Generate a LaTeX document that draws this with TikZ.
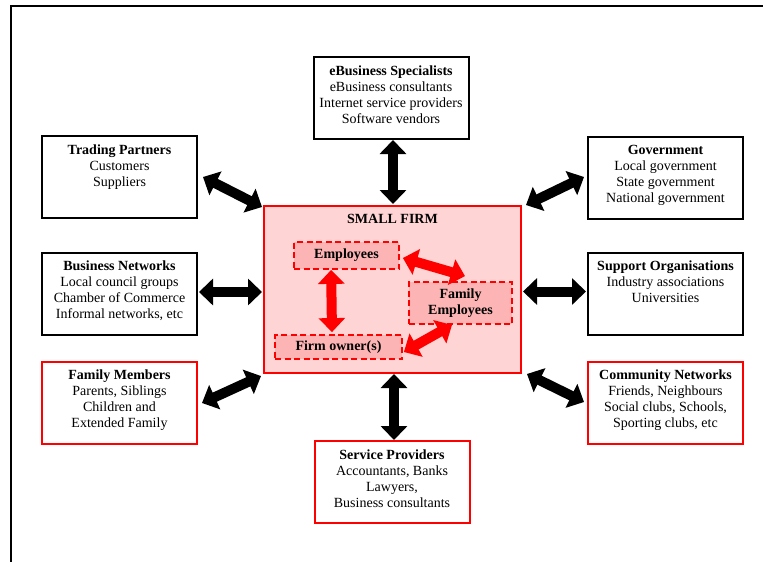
\documentclass[tikz,border=0pt]{standalone}
\usepackage{fontspec}
\setmainfont{Liberation Serif}
\usetikzlibrary{arrows.meta,calc}
\definecolor{firmred}{RGB}{255,0,0}
\definecolor{firmfill}{RGB}{255,212,212}
\definecolor{rolefill}{RGB}{252,180,180}
\tikzset{
  outerbox/.style={draw=black, line width=2pt, minimum width=155pt, minimum height=82pt, inner sep=0pt},
  familybox/.style={outerbox, draw=firmred},
  boxtext/.style={anchor=north, align=center, inner sep=0pt, font=\fontsize{14}{16}\selectfont},
  firmbox/.style={draw=firmred, fill=firmfill, line width=2pt, minimum width=257pt, minimum height=167pt, inner sep=0pt},
  rolebox/.style={draw=firmred, fill=rolefill, line width=1.8pt, dash pattern=on 6pt off 3.5pt, inner sep=0pt, align=center, font=\fontsize{14}{16}\selectfont\bfseries},
  link/.style={line width=10pt, {Triangle[width=26pt,length=14pt]}-{Triangle[width=26pt,length=14pt]}},
  blacklink/.style={link, draw=black},
  redlink/.style={link, draw=firmred},
}
\begin{document}
\begin{tikzpicture}[x=1pt,y=-1pt]
\useasboundingbox (0,0) rectangle (763,562);
% page frame
\draw[line width=2pt] (11,562) -- (11,6) -- (763,6);

% the small firm and its internal roles
\node[firmbox] (sf) at (392.5,289.5) {};
\node[font=\fontsize{14}{16}\selectfont\bfseries, inner sep=0pt] (sftitle) at ($(sf.north)+(0,14)$) {SMALL FIRM};
\node[rolebox, minimum width=105pt, minimum height=27pt] (emp) at (346.5,255.5) {Employees};
\node[rolebox, minimum width=103pt, minimum height=42pt] (fe) at (460.5,303) {Family\\Employees};
\node[rolebox, minimum width=127pt, minimum height=24pt] (fo) at (338.5,347) {Firm owner(s)};

% surrounding stakeholder groups
\node[outerbox] (eb) at (391,98) {};
\node[boxtext] (ebt) at ($(eb.north)+(0,8)$) {\strut\textbf{eBusiness Specialists}\\eBusiness consultants\\Internet service providers\\Software vendors};

\node[outerbox] (tp) at (119.5,177) {};
\node[boxtext] (tpt) at ($(tp.north)+(0,8)$) {\strut\textbf{Trading Partners}\\Customers\\Suppliers};

\node[outerbox] (bn) at (119.5,293.5) {};
\node[boxtext] (bnt) at ($(bn.north)+(0,8)$) {\strut\textbf{Business Networks}\\Local council groups\\Chamber of Commerce\\Informal networks, etc};

\node[familybox] (fm) at (119.5,402.5) {};
\node[boxtext] (fmt) at ($(fm.north)+(0,8)$) {\strut\textbf{Family Members}\\Parents, Siblings\\Children and\\Extended Family};

\node[outerbox] (gov) at (665.5,177.5) {};
\node[boxtext] (govt) at ($(gov.north)+(0,8)$) {\strut\textbf{Government}\\Local government\\State government\\National government};

\node[outerbox] (so) at (665.5,293.5) {};
\node[boxtext] (sot) at ($(so.north)+(0,8)$) {\strut\textbf{Support Organisations}\\Industry associations\\Universities};

\node[familybox] (cn) at (665.5,402.5) {};
\node[boxtext] (cnt) at ($(cn.north)+(0,8)$) {\strut\textbf{Community Networks}\\Friends, Neighbours\\Social clubs, Schools,\\Sporting clubs, etc};

\node[familybox] (sp) at (392,482) {};
\node[boxtext] (spt) at ($(sp.north)+(0,8)$) {\strut\textbf{Service Providers}\\Accountants, Banks\\Lawyers,\\Business consultants};

% links between the firm and its environment
\draw[blacklink] ($(eb.south)+(2,0)$) -- ($(sf.north)+(0.5,-1)$);
\draw[blacklink] ($(sf.south)+(1.5,0)$) -- ($(sp.north)+(2,0)$);
\draw[blacklink] ($(tp.east)+(5,0)$) -- ($(sf.north west)+(-1,2)$);
\draw[blacklink] ($(bn.east)+(1,-1.5)$) -- ($(sf.west)+(-1,2.5)$);
\draw[blacklink] ($(fm.east)+(4,0.5)$) -- ($(sf.south west)+(-2,2)$);
\draw[blacklink] ($(gov.west)+(-3,-0.5)$) -- ($(sf.north east)+(4,0)$);
\draw[blacklink] ($(so.west)+(-1,-2)$) -- ($(sf.east)+(1,2)$);
\draw[blacklink] ($(cn.west)+(-3,-0.5)$) -- ($(sf.south east)+(5,0)$);

% links between the roles inside the firm
\draw[redlink] ($(emp.south west)+(38,0)$) -- ($(fo.north)+(-6.5,-2)$);
\draw[redlink] ($(emp.east)+(3,2.5)$) -- ($(fe.north)+(4.5,-5)$);
\draw[redlink] ($(fo.east)+(1,5)$) -- ($(fe.south)+(-8.5,0)$);
\end{tikzpicture}
\end{document}
